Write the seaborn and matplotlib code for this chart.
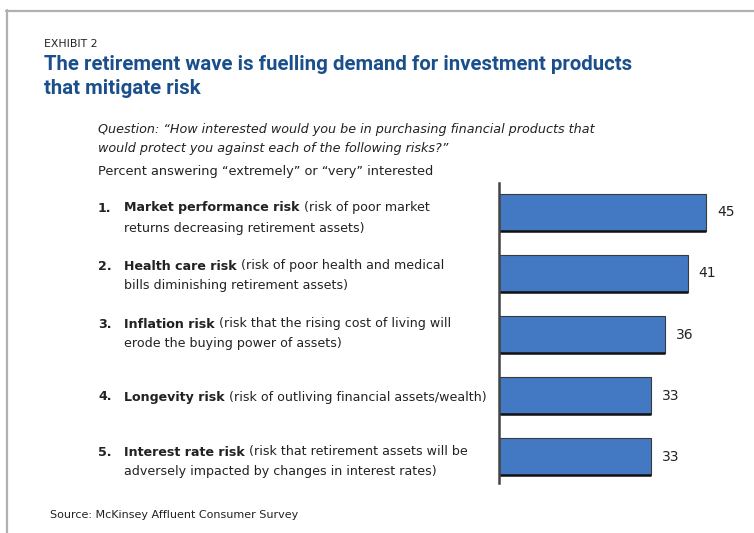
import matplotlib
matplotlib.use("Agg")
import matplotlib.pyplot as plt
from matplotlib import font_manager
import seaborn as sns
import pandas as pd

# Survey data
risk_numbers = ["1.", "2.", "3.", "4.", "5."]
risk_names = ["Market performance risk", "Health care risk", "Inflation risk",
              "Longevity risk", "Interest rate risk"]
risk_details = [
    ["(risk of poor market", "returns decreasing retirement assets)"],
    ["(risk of poor health and medical", "bills diminishing retirement assets)"],
    ["(risk that the rising cost of living will", "erode the buying power of assets)"],
    ["(risk of outliving financial assets/wealth)"],
    ["(risk that retirement assets will be", "adversely impacted by changes in interest rates)"],
]
percent_interested = [45, 41, 36, 33, 33]

exhibit_label = "EXHIBIT 2"
title_lines = ["The retirement wave is fuelling demand for investment products",
               "that mitigate risk"]
question_lines = ["Question: \u201cHow interested would you be in purchasing financial products that",
                  "would protect you against each of the following risks?\u201d"]
subtitle = "Percent answering \u201cextremely\u201d or \u201cvery\u201d interested"
source = "Source: McKinsey Affluent Consumer Survey"

df = pd.DataFrame({"risk": risk_names, "value": percent_interested})

sns.set_theme(style="white")
installed = {f.name for f in font_manager.fontManager.ttflist}
for cand in ["Roboto", "Liberation Sans"]:
    if cand in installed:
        title_family = cand
        break
else:
    title_family = "DejaVu Sans"
plt.rcParams["font.family"] = ["DejaVu Sans"]

W, H = 754, 533
fig = plt.figure(figsize=(W / 100, H / 100), dpi=100)


def px(x, y):
    return x / W, 1 - y / H


# Page frame
fig.add_artist(plt.Line2D([px(6, 0)[0], 1.0], [px(0, 10.5)[1]] * 2,
                          color="#b0b0b0", lw=1.6, transform=fig.transFigure))
fig.add_artist(plt.Line2D([px(6.5, 0)[0]] * 2, [px(0, 10)[1], 0.0],
                          color="#b0b0b0", lw=1.6, transform=fig.transFigure))

# Bar axes
ax = fig.add_axes([499 / W, 1 - 483 / H, 253 / W, 300 / H])
sns.barplot(data=df, y="risk", x="value", orient="h", color="#4379c3",
            edgecolor="#3a3a3a", linewidth=0.8, width=0.6, saturation=1, ax=ax)
ax.set_xlim(0, 55)
ax.set_ylim(4.43, -0.48)
for p in ax.patches:
    x0, y0 = p.get_x(), p.get_y()
    ax.plot([x0, x0 + p.get_width()], [y0 + p.get_height()] * 2,
            color="#111111", lw=1.8, solid_capstyle="butt")
ax.bar_label(ax.containers[0], padding=8, fontsize=10, color="#222222")
for s in ["top", "right", "bottom"]:
    ax.spines[s].set_visible(False)
ax.spines["left"].set_color("#444444")
ax.spines["left"].set_linewidth(1.8)
ax.set_xticks([])
ax.set_yticks([])
ax.set_xlabel("")
ax.set_ylabel("")

fig.canvas.draw()
renderer = fig.canvas.get_renderer()

# Header texts
fig.text(*px(44, 44), exhibit_label, fontsize=7.8, va="center", color="#222222")
probe = fig.text(0, 0, title_lines[0], fontsize=13, fontweight="bold",
                 family=title_family)
title_size = 13 * 587 / probe.get_window_extent(renderer).width
probe.remove()
for i, line in enumerate(title_lines):
    fig.text(*px(44, 64 + 25 * i), line, fontsize=title_size, va="center",
             fontweight="bold", family=title_family, color="#1b4f8c")
for i, line in enumerate(question_lines):
    fig.text(*px(98, 130 + 18 * i), line, fontsize=9.15, va="center",
             style="italic", color="#222222")
fig.text(*px(98, 172), subtitle, fontsize=9.3, va="center", color="#222222")

# Category labels: bold name followed by plain description
row_tops = [208, 266, 324, 397, 452]
for num, name, detail, y in zip(risk_numbers, risk_names, risk_details, row_tops):
    fig.text(*px(98, y), num, fontsize=9.1, fontweight="bold", va="center",
             color="#222222")
    t = fig.text(*px(124, y), name, fontsize=9.1, fontweight="bold", va="center",
                 color="#222222")
    bb = t.get_window_extent(renderer)
    fig.text((bb.x1 + 4) / W, px(0, y)[1], detail[0], fontsize=9.1, va="center",
             color="#222222")
    for j, extra in enumerate(detail[1:], start=1):
        fig.text(*px(124, y + 20 * j), extra, fontsize=9.1, va="center",
                 color="#222222")

fig.text(*px(50, 515), source, fontsize=8.0, va="center", color="#222222")

fig.savefig("out.png", dpi=100)
